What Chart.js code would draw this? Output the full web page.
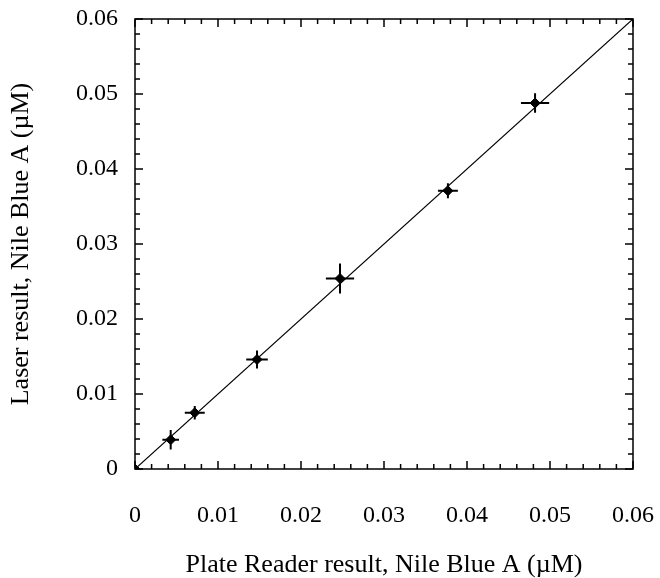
<!DOCTYPE html>
<html>
<head>
<meta charset="utf-8">
<script src="https://cdn.jsdelivr.net/npm/chart.js@4"></script>
<style>
  html, body { margin: 0; padding: 0; background: #fff; }
  #wrap { width: 660px; height: 578px; }
</style>
</head>
<body>
<div id="wrap"><canvas id="chart"></canvas></div>
<script>
const plateReader = [0, 0.0043, 0.0072, 0.0147, 0.0247, 0.0377, 0.0482];
const laser       = [0, 0.0039, 0.0075, 0.0146, 0.0254, 0.0371, 0.0488];
const xErr        = [0, 0.0010, 0.0012, 0.0013, 0.0017, 0.0012, 0.0017];
const yErr        = [0, 0.0013, 0.0009, 0.0012, 0.0020, 0.0010, 0.0013];
const fitLine     = [[0, 0], [0.06, 0.06]];

const fontFamily = '"Liberation Serif", "DejaVu Serif", serif';

const points = plateReader.map((x, i) => ({ x: x, y: laser[i], xe: xErr[i], ye: yErr[i] }));

// error bars, drawn through the scales
const errorBars = {
  id: 'errorBars',
  afterDatasetsDraw(chart) {
    const { ctx, scales: { x, y } } = chart;
    ctx.save();
    ctx.strokeStyle = '#000';
    ctx.lineWidth = 2;
    points.forEach(p => {
      if (!p.xe && !p.ye) return;
      const cx = x.getPixelForValue(p.x), cy = y.getPixelForValue(p.y);
      ctx.beginPath();
      ctx.moveTo(x.getPixelForValue(p.x - p.xe), cy);
      ctx.lineTo(x.getPixelForValue(p.x + p.xe), cy);
      ctx.moveTo(cx, y.getPixelForValue(p.y - p.ye));
      ctx.lineTo(cx, y.getPixelForValue(p.y + p.ye));
      ctx.stroke();
    });
    ctx.restore();
  }
};

// frame with inward ticks on all four sides
const frame = {
  id: 'frame',
  afterDraw(chart) {
    const { ctx, chartArea: a, scales: { x, y } } = chart;
    ctx.save();
    ctx.strokeStyle = '#000';
    ctx.lineWidth = 1.5;
    ctx.strokeRect(a.left, a.top, a.right - a.left, a.bottom - a.top);
    ctx.beginPath();
    for (let i = 0; i <= 30; i++) {
      const v = i * 0.002;
      const len = i % 5 === 0 ? 8 : 5;
      const px = x.getPixelForValue(v), py = y.getPixelForValue(v);
      ctx.moveTo(px, a.bottom); ctx.lineTo(px, a.bottom - len);
      ctx.moveTo(px, a.top); ctx.lineTo(px, a.top + len);
      ctx.moveTo(a.left, py); ctx.lineTo(a.left + len, py);
      ctx.moveTo(a.right, py); ctx.lineTo(a.right - len, py);
    }
    ctx.stroke();
    ctx.restore();
  }
};

const labelTick = v => {
  const r = Math.round(v * 1000);
  if (r % 10 !== 0) return '';
  return r === 0 ? '0' : (r / 1000).toFixed(2);
};

new Chart(document.getElementById('chart'), {
  type: 'scatter',
  data: {
    datasets: [
      {
        type: 'line',
        data: fitLine.map(p => ({ x: p[0], y: p[1] })),
        borderColor: '#000',
        borderWidth: 1.2,
        pointRadius: 0,
        fill: false
      },
      {
        data: points,
        backgroundColor: '#000',
        borderColor: '#000',
        borderWidth: 1,
        pointStyle: 'rectRot',
        pointRadius: 5
      }
    ]
  },
  options: {
    responsive: true,
    maintainAspectRatio: false,
    animation: false,
    events: [],
    layout: { padding: { top: 19, right: 27, left: 0, bottom: 0 } },
    plugins: { legend: { display: false }, tooltip: { enabled: false } },
    scales: {
      x: {
        type: 'linear',
        min: 0, max: 0.06,
        afterFit: s => { s.height = 109; s.paddingLeft = 0; s.paddingRight = 0; },
        grid: { display: false },
        border: { display: false },
        ticks: {
          stepSize: 0.002,
          autoSkip: false,
          maxRotation: 0,
          padding: 24,
          color: '#000',
          font: { family: fontFamily, size: 24 },
          callback: labelTick
        },
        title: {
          display: true,
          text: 'Plate Reader result, Nile Blue A (\u00b5M)',
          color: '#000',
          font: { family: fontFamily, size: 26 },
          padding: { top: 0, bottom: -3 }
        }
      },
      y: {
        type: 'linear',
        min: 0, max: 0.06,
        afterFit: s => { s.width = 135; s.paddingTop = 0; s.paddingBottom = 0; },
        grid: { display: false },
        border: { display: false },
        ticks: {
          stepSize: 0.002,
          autoSkip: false,
          padding: 9,
          color: '#000',
          font: { family: fontFamily, size: 24 },
          callback: labelTick
        },
        title: {
          display: true,
          text: 'Laser result, Nile Blue A (\u00b5M)',
          color: '#000',
          font: { family: fontFamily, size: 26 },
          padding: { top: 6, bottom: 0 }
        }
      }
    }
  },
  plugins: [errorBars, frame]
});
</script>
</body>
</html>
